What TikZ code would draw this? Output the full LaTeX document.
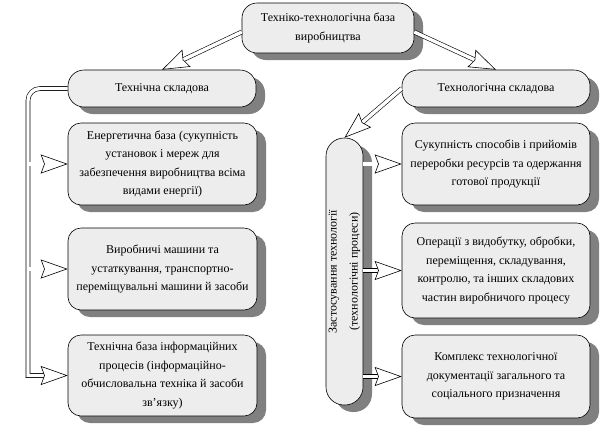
\documentclass[tikz,border=0pt]{standalone}
\usepackage{fontspec}
\setmainfont{Liberation Serif}
\usetikzlibrary{arrows.meta,shadows}
\begin{document}
\begin{tikzpicture}[x=1pt,y=-1pt,
  box/.style={draw=black, line width=0.6pt, fill=black!7, rounded corners=13pt,
    align=center, inner sep=0pt, font=\fontsize{12}{18.5}\selectfont,
    drop shadow={shadow xshift=9pt, shadow yshift=-7pt, fill=black!50, opacity=1}},
  pilltext/.style={rotate=90, align=center, inner sep=0pt, font=\fontsize{12}{21}\selectfont},
  blk/.style={line width=4.6pt, draw=black, shorten >=21pt, line join=miter,
    postaction={draw=white, line width=3.4pt, shorten >=20pt, shorten <=0pt},
    postaction={draw=white, line width=0.2pt, shorten >=0pt, shorten <=0pt,
      -{Stealth[length=27pt, width=19pt, inset=3.5pt, color=black, fill=white, line width=0.6pt]}}}
]
\useasboundingbox (0,0) rectangle (604,432);
\fill[white] (0,0) rectangle (604,432);

\node[box, minimum width=172pt, minimum height=50pt, rounded corners=15pt] (top) at (328,28)
  {Техніко-технологічна база\\виробництва};
\node[box, minimum width=188pt, minimum height=37pt, rounded corners=16pt] (tech) at (162,88.5)
  {Технічна складова};
\node[box, minimum width=188pt, minimum height=37pt, rounded corners=16pt] (techno) at (496,88.5)
  {Технологічна складова};

\node[box, minimum width=189pt, minimum height=82pt] (L1) at (162.5,164)
  {Енергетична база (сукупність\\установок і мереж для\\забезпечення виробництва всіма\\видами енергії)};
\node[box, minimum width=189pt, minimum height=82pt] (L2) at (162.5,269)
  {Виробничі машини та\\устаткування, транспортно-\\переміщувальні машини й засоби};
\node[box, minimum width=189pt, minimum height=81pt] (L3) at (162.5,375.5)
  {Технічна база інформаційних\\процесів (інформаційно-\\обчисловальна техніка й засоби\\зв'язку)};

\node[box, minimum width=188pt, minimum height=82pt] (R1) at (496,164)
  {Сукупність способів і прийомів\\переробки ресурсів та одержання\\готової продукції};
\node[box, minimum width=188pt, minimum height=95pt] (R2) at (496,270.5)
  {Операції з видобутку, обробки,\\переміщення, складування,\\контролю, та інших складових\\частин виробничого процесу};
\node[box, minimum width=188pt, minimum height=83pt] (R3) at (496,376.5)
  {Комплекс технологічної\\документації загального та\\соціального призначення};

\node[box, minimum width=37pt, minimum height=267pt, rounded corners=18pt] (pill) at (344.5,271.5) {};
\node[pilltext] (pillt) at (pill.center) {Застосування технології\\(технологічні процеси)};

% connectors from top
\draw[blk] ([yshift=-4pt]top.west) -- (tech.north);
\draw[blk] ([yshift=-4pt]top.east) -- (techno.north);
\draw[blk] (techno.west) -- (pill.north);

% left bracket
\coordinate (cTop) at (28,88.5);
\coordinate (cBot) at (28,375.5);
\draw[blk] (tech.west) -- ([xshift=12pt]cTop) arc[start angle=90, end angle=180, radius=12pt]
  -- (cBot) -- (L3.west);
\draw[blk, shorten <=2.3pt] (cTop |- L1.west) -- (L1.west);
\draw[blk, shorten <=2.3pt] (cTop |- L2.west) -- (L2.west);

% right branches
\draw[blk] (pill.east |- R1.west) -- (R1.west);
\draw[blk] (pill.east |- R2.west) -- (R2.west);
\draw[blk] (pill.east |- R3.west) -- (R3.west);
\end{tikzpicture}
\end{document}
